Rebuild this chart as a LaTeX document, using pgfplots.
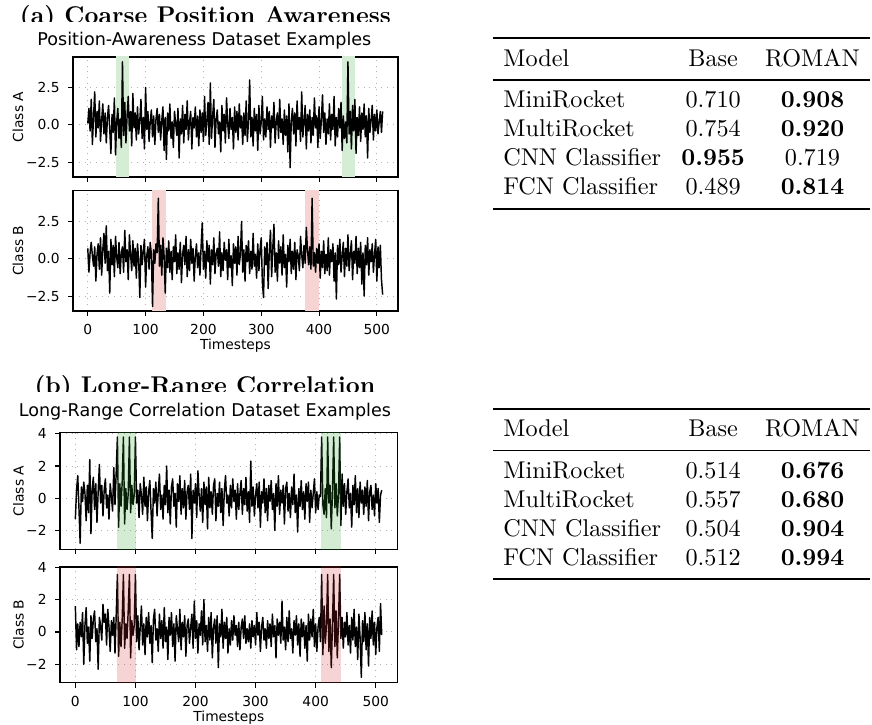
\documentclass[border=0pt]{standalone}
\usepackage{pgfplots}
\pgfplotsset{compat=1.18}
\usepackage{pgfplotstable}
\usepackage{booktabs}
\usepackage{fontspec}
\newfontfamily\dejavu{DejaVu Sans}
\definecolor{shG}{RGB}{213,236,213}
\definecolor{shR}{RGB}{247,212,212}
\definecolor{tabgreen}{RGB}{44,160,44}
\definecolor{tabred}{RGB}{214,39,40}
\newlength\bw
\settowidth\bw{\fontsize{10}{12}\selectfont\textbf{0.000}}

\pgfplotstableread[row sep=\\]{y\\
0.1\\ 1.1\\ -0.4\\ 1.7\\ -1.3\\ 0.6\\ 2.2\\ -0.8\\ 0.9\\ -0.2\\ 1.6\\ -1.1\\ 0.3\\ 1.4\\ -0.6\\ 0.8\\
-1.2\\ 0.5\\ 1.3\\ -0.3\\ -1.9\\ 0.7\\ -0.5\\ 1.8\\ -2.0\\ 0.2\\ 1.1\\ -0.9\\ 0.4\\ -1.5\\ 4.2\\ -0.7\\
1.5\\ -1.2\\ 0.6\\ 1.9\\ -0.4\\ 0.9\\ -1.4\\ 2.1\\ -0.2\\ 0.8\\ -1.0\\ 1.2\\ -0.6\\ 0.3\\ 1.7\\ -0.9\\
0.5\\ -1.6\\ 2.5\\ -0.3\\ 0.9\\ -1.1\\ 0.2\\ 1.0\\ -0.8\\ 0.6\\ -1.3\\ 0.4\\ 1.1\\ -0.5\\ 0.7\\ -1.0\\
0.3\\ 1.2\\ -1.7\\ 0.5\\ -2.3\\ 0.8\\ -0.4\\ 1.4\\ -0.9\\ 0.2\\ -1.5\\ 0.9\\ 0.1\\ -0.7\\ 1.1\\ -2.2\\
0.4\\ -0.6\\ 1.3\\ -1.2\\ 0.7\\ -0.3\\ 1.6\\ -1.0\\ 0.2\\ 0.9\\ -1.6\\ 0.5\\ -0.2\\ 1.2\\ -0.8\\ 0.6\\
-1.4\\ 1.0\\ -0.5\\ 0.8\\ -1.1\\ 1.9\\ -0.7\\ 0.3\\ 1.5\\ -1.3\\ 2.8\\ -0.9\\ 0.6\\ 1.7\\ -1.5\\ 0.4\\
1.0\\ -0.6\\ 0.2\\ -1.8\\ 1.3\\ -0.4\\ 0.7\\ -1.2\\ 1.8\\ 0.1\\ -0.9\\ 1.1\\ -0.3\\ 0.5\\ -1.6\\ 1.2\\
-0.5\\ 0.9\\ -1.0\\ 1.4\\ -0.2\\ 0.6\\ -1.3\\ 0.8\\ -0.7\\ 1.6\\ -1.1\\ 0.3\\ 3.0\\ -0.8\\ 0.5\\ -1.4\\
1.1\\ -0.4\\ 0.7\\ -1.7\\ 1.3\\ -0.6\\ 0.2\\ 1.9\\ -1.0\\ 0.4\\ -0.8\\ 1.2\\ -0.3\\ 0.9\\ -1.5\\ 0.6\\
-0.2\\ 1.5\\ -1.2\\ 0.3\\ 0.8\\ -0.9\\ 1.7\\ -0.5\\ 0.4\\ -1.3\\ 1.0\\ -0.7\\ 0.6\\ -1.8\\ 1.4\\ -2.85\\
0.3\\ 1.1\\ -0.6\\ 0.8\\ -1.4\\ 1.6\\ -0.3\\ 0.5\\ -1.1\\ 2.2\\ -0.8\\ 0.2\\ 1.3\\ -1.6\\ 0.7\\ -0.4\\
1.0\\ -1.2\\ 0.5\\ -0.7\\ 1.8\\ -0.2\\ 0.6\\ -1.5\\ 1.2\\ -0.9\\ 0.3\\ 2.0\\ -0.5\\ 0.8\\ -1.3\\ 0.4\\
-0.6\\ 1.4\\ -1.0\\ 0.7\\ -0.3\\ 1.9\\ -1.4\\ 0.5\\ -0.8\\ 1.1\\ -0.2\\ 1.5\\ -1.7\\ 0.6\\ -0.9\\ 0.2\\
-1.2\\ 4.2\\ -0.6\\ 0.9\\ -1.6\\ 1.3\\ -0.4\\ 1.7\\ -1.9\\ 0.5\\ -0.7\\ 1.2\\ -1.1\\ 0.8\\ -0.3\\ 1.4\\
-0.8\\ 0.6\\ -2.2\\ 1.1\\ -0.5\\ 0.3\\ 1.3\\ -1.0\\ 0.7\\ -0.4\\ 1.0\\ -0.6\\ 0.2\\ 0.9\\ -0.5\\ 0.9\\
}\aA

\pgfplotstableread[row sep=\\]{y\\
0.7\\ -0.9\\ 0.4\\ 1.1\\ 0.2\\ -0.5\\ 0.8\\ -1.5\\ 0.3\\ 1.0\\ -0.7\\ 1.4\\ -1.1\\ 0.6\\ 1.7\\ -0.3\\
2.2\\ -0.8\\ 0.5\\ -2.3\\ 1.3\\ -0.4\\ 0.9\\ -1.2\\ 1.5\\ 0.1\\ -0.6\\ 1.1\\ -1.0\\ 0.4\\ 0.8\\ -0.9\\
1.9\\ -0.2\\ 0.6\\ -1.4\\ 1.6\\ 0.3\\ -0.8\\ 1.2\\ -0.5\\ 0.7\\ -1.3\\ 1.0\\ -0.1\\ -2.6\\ 0.9\\ -0.4\\
0.5\\ 1.3\\ -1.9\\ 0.2\\ 0.8\\ -0.7\\ 1.1\\ 0.3\\ -3.2\\ 0.6\\ -0.3\\ 1.0\\ 0.4\\ 4.05\\ -0.5\\ 0.9\\
-1.1\\ 1.4\\ 0.2\\ -2.3\\ 0.7\\ -0.6\\ 1.2\\ -0.9\\ 0.5\\ -1.4\\ 0.8\\ -0.2\\ 1.6\\ -1.0\\ 0.4\\ -0.7\\
1.1\\ -1.6\\ 0.3\\ 0.9\\ -0.4\\ 1.5\\ -1.2\\ 0.6\\ -0.8\\ 1.3\\ -0.3\\ 0.7\\ -1.5\\ 0.2\\ 1.0\\ -0.6\\
0.4\\ -1.1\\ 0.8\\ 2.4\\ -0.7\\ 0.5\\ -1.3\\ 1.2\\ -0.2\\ 0.9\\ -1.7\\ 0.6\\ -0.4\\ 1.4\\ -1.0\\ 0.3\\
0.7\\ -0.5\\ 1.8\\ -1.2\\ 0.4\\ -0.8\\ 1.1\\ -0.1\\ 0.6\\ -1.4\\ 1.3\\ -0.6\\ 0.2\\ -1.8\\ 1.0\\ -0.3\\
0.8\\ -1.1\\ 1.5\\ -0.4\\ 0.3\\ 2.5\\ -0.9\\ 0.6\\ -1.5\\ 0.9\\ -0.2\\ 1.2\\ -1.0\\ 0.5\\ -0.7\\ 1.7\\
-0.5\\ 0.3\\ -1.3\\ 1.0\\ -0.8\\ 0.6\\ 1.4\\ -1.6\\ -2.6\\ 0.8\\ -0.4\\ 1.1\\ -2.0\\ 0.5\\ 1.9\\ -1.2\\
0.7\\ 2.3\\ -0.9\\ 0.4\\ -1.5\\ 1.2\\ -0.3\\ 0.8\\ -1.1\\ 1.6\\ -0.6\\ 0.3\\ -1.9\\ 0.9\\ -0.2\\ 1.3\\
-1.0\\ 0.5\\ -0.7\\ 1.1\\ -1.4\\ 0.6\\ 0.2\\ -0.8\\ 1.5\\ 0.3\\ -0.6\\ 0.9\\ -0.3\\ 2.1\\ 0.6\\ -0.4\\
0.8\\ -0.7\\ 4.05\\ -0.5\\ 0.4\\ -0.9\\ 0.7\\ -0.3\\ 1.0\\ -1.3\\ 0.5\\ -0.6\\ 1.2\\ -1.0\\ 0.3\\ -0.8\\
1.4\\ -1.1\\ 0.6\\ -0.2\\ 1.0\\ -1.5\\ 0.4\\ -2.7\\ 0.9\\ -0.4\\ 1.3\\ -0.9\\ 0.2\\ 1.1\\ -1.2\\ 0.7\\
-0.5\\ 1.6\\ -0.8\\ 0.3\\ 1.2\\ -1.4\\ 0.5\\ -0.3\\ 1.5\\ -1.0\\ 0.7\\ -0.6\\ 1.1\\ -1.7\\ 0.4\\ -2.5\\
0.9\\ -0.4\\ 1.4\\ -1.1\\ 0.6\\ -0.2\\ 1.0\\ -0.9\\ 0.3\\ 1.3\\ -1.5\\ 0.8\\ -0.6\\ 0.9\\ -1.4\\ -2.4\\
}\aB

\pgfplotstableread[row sep=\\]{y\\
-1.3\\ 0.5\\ 1.4\\ -0.6\\ -2.8\\ 0.7\\ -0.2\\ 1.0\\ 0.3\\ -1.4\\ 0.8\\ -0.9\\ 2.4\\ -2.2\\ 0.6\\ 1.3\\
-0.7\\ 0.9\\ -1.5\\ 0.4\\ 2.1\\ -0.3\\ 0.8\\ -1.1\\ 0.5\\ 1.2\\ -0.6\\ 0.2\\ -1.3\\ 0.9\\ 0.1\\ -0.8\\
1.9\\ -0.4\\ 1.6\\ 3.8\\ -1.8\\ 0.9\\ -0.5\\ 1.0\\ 3.8\\ -1.6\\ 0.6\\ -0.7\\ 0.3\\ 3.8\\ -0.9\\ 0.8\\
-0.4\\ 0.2\\ 3.8\\ -0.3\\ 0.5\\ -1.2\\ 0.9\\ 0.2\\ -1.0\\ 1.3\\ -0.5\\ 0.7\\ -1.4\\ 0.4\\ 1.1\\ -0.8\\
-2.5\\ 0.6\\ -0.3\\ 1.0\\ -1.1\\ 0.4\\ 1.5\\ -0.7\\ 0.2\\ -1.3\\ 0.8\\ -0.4\\ 2.0\\ -0.9\\ 0.5\\ -1.6\\
0.7\\ 1.2\\ -0.5\\ 0.3\\ -1.8\\ 0.9\\ -0.2\\ 1.4\\ -1.0\\ 0.6\\ -0.6\\ 1.1\\ -1.3\\ 0.4\\ 0.8\\ -0.7\\
1.5\\ -2.5\\ 0.5\\ -0.3\\ 0.9\\ -1.2\\ 1.7\\ 0.2\\ -0.8\\ 0.6\\ -1.5\\ 1.0\\ -0.4\\ 0.7\\ -1.9\\ 1.3\\
-0.6\\ 0.4\\ -1.0\\ 0.8\\ 1.2\\ -1.4\\ 0.3\\ -0.5\\ 1.0\\ -0.9\\ 0.6\\ -1.7\\ 0.5\\ 1.4\\ -0.3\\ 0.2\\
-1.1\\ 0.8\\ -0.6\\ 1.2\\ -0.2\\ 0.5\\ -1.3\\ 0.9\\ -0.7\\ 0.3\\ 1.1\\ -1.0\\ 0.6\\ -0.4\\ 1.3\\ -0.8\\
0.4\\ -1.5\\ 2.3\\ -0.5\\ 0.7\\ -1.1\\ 0.2\\ 0.9\\ -0.6\\ 1.0\\ -1.8\\ 0.4\\ -0.3\\ 1.2\\ -0.9\\ 0.6\\
-1.4\\ 0.8\\ -0.2\\ 1.1\\ -0.7\\ 0.3\\ -2.0\\ 0.9\\ -0.5\\ 1.4\\ -1.0\\ 0.5\\ -0.3\\ 0.8\\ -1.6\\ 0.6\\
1.0\\ -0.8\\ 0.3\\ -1.2\\ 0.7\\ -0.4\\ 1.5\\ -0.9\\ 0.2\\ -2.1\\ 0.6\\ -0.5\\ 1.1\\ -0.7\\ 0.4\\ -1.3\\
0.9\\ -0.2\\ 1.0\\ -1.5\\ 0.5\\ -0.6\\ 0.3\\ 1.2\\ -0.9\\ 0.4\\ -0.7\\ 0.2\\ 0.1\\ 3.8\\ -0.4\\ -1.0\\
0.6\\ -1.2\\ 3.8\\ -0.3\\ 0.8\\ -1.9\\ 0.4\\ 3.8\\ -0.6\\ 0.9\\ -1.1\\ 0.2\\ 3.8\\ -1.7\\ 1.5\\ -0.5\\
0.9\\ -1.0\\ 0.4\\ 1.2\\ -0.6\\ 0.3\\ -1.8\\ 0.8\\ -0.4\\ 1.4\\ -0.9\\ 0.6\\ -1.2\\ 1.0\\ -0.3\\ 0.5\\
-1.0\\ 0.7\\ -0.5\\ 1.1\\ -1.4\\ 0.4\\ 0.8\\ -0.7\\ 0.2\\ -1.1\\ 0.9\\ -0.3\\ 0.6\\ -1.5\\ 0.2\\ 0.5\\
}\bA

\pgfplotstableread[row sep=\\]{y\\
1.6\\ -1.1\\ 0.5\\ -0.9\\ 0.6\\ -0.3\\ 1.2\\ -2.0\\ 0.4\\ 1.5\\ -0.7\\ 0.3\\ -1.8\\ 1.0\\ -0.4\\ 0.8\\
1.3\\ -0.6\\ 0.2\\ -2.3\\ 0.9\\ 0.4\\ -0.5\\ 1.7\\ 0.6\\ 1.1\\ -0.8\\ 1.4\\ 0.3\\ -1.2\\ 0.7\\ -0.2\\
0.9\\ -1.3\\ 1.0\\ 3.55\\ -1.5\\ 0.6\\ -0.9\\ 0.8\\ 3.55\\ -1.0\\ 0.5\\ -0.4\\ 1.3\\ 3.55\\ -1.6\\ 0.7\\
-0.2\\ 0.4\\ 3.55\\ -0.6\\ 1.0\\ -1.1\\ 0.3\\ 1.6\\ -0.8\\ 0.5\\ -1.4\\ 0.9\\ -0.3\\ 1.2\\ -0.7\\ 0.4\\
-1.9\\ 0.8\\ 1.4\\ -0.5\\ 0.2\\ -1.2\\ 1.1\\ -0.4\\ 0.7\\ -1.0\\ 1.5\\ -0.6\\ 0.3\\ -1.7\\ 0.9\\ -0.2\\
1.2\\ -0.9\\ 0.5\\ -1.8\\ 1.0\\ 0.2\\ -0.6\\ 1.4\\ -1.1\\ 0.6\\ -0.3\\ 1.0\\ -1.5\\ 0.4\\ 0.8\\ -0.7\\
0.3\\ 1.1\\ -1.0\\ 1.9\\ -0.4\\ 0.7\\ -1.3\\ 0.5\\ -0.2\\ 1.3\\ -0.8\\ 2.0\\ -0.6\\ 0.4\\ -1.2\\ 0.9\\
-0.5\\ 1.2\\ -1.6\\ 0.3\\ 0.8\\ -0.7\\ 1.0\\ -2.2\\ 0.5\\ -0.3\\ 1.4\\ -1.0\\ 0.6\\ -0.4\\ 0.9\\ -1.3\\
0.2\\ -0.8\\ 0.7\\ -0.5\\ 1.0\\ -0.2\\ 0.4\\ -0.9\\ 0.6\\ -1.1\\ 0.3\\ 0.8\\ -0.4\\ 1.0\\ -0.7\\ 0.2\\
-0.6\\ 0.5\\ -1.0\\ 0.7\\ -0.3\\ 0.4\\ -0.8\\ 1.2\\ -0.2\\ 0.6\\ -1.2\\ 0.3\\ 0.9\\ -0.5\\ 0.2\\ -1.0\\
0.7\\ -0.4\\ 0.5\\ -0.9\\ 1.1\\ -0.3\\ 0.4\\ -1.6\\ 0.8\\ -0.2\\ 0.6\\ -0.7\\ 1.9\\ -0.5\\ 0.3\\ -1.1\\
0.9\\ -0.6\\ 1.3\\ -0.4\\ 0.2\\ -1.3\\ 0.7\\ -0.2\\ 1.0\\ -0.8\\ 0.5\\ -1.5\\ 0.8\\ -0.3\\ 0.6\\ -1.0\\
0.4\\ -1.8\\ 1.1\\ -0.5\\ 0.8\\ -0.3\\ 1.4\\ -0.9\\ 0.5\\ -1.2\\ 0.3\\ 0.9\\ -0.6\\ 3.55\\ -1.4\\ 1.6\\
-0.7\\ 0.4\\ 3.55\\ -1.2\\ 0.8\\ -2.2\\ 0.5\\ 3.55\\ -0.9\\ 1.3\\ -1.6\\ 0.7\\ 3.55\\ -0.4\\ 0.9\\ -1.0\\
0.6\\ -0.3\\ 1.2\\ -0.8\\ 0.4\\ -1.3\\ 0.9\\ -0.5\\ 1.4\\ -0.9\\ 0.3\\ -1.7\\ 1.1\\ -0.4\\ -2.8\\ 0.7\\
-0.6\\ 1.2\\ -1.1\\ 0.5\\ -2.1\\ 0.9\\ -0.4\\ 1.3\\ -0.8\\ 0.6\\ -1.4\\ 0.3\\ 0.9\\ -1.2\\ 1.75\\ -0.2\\
}\bB

\pgfplotsset{
  ts/.style={
    scale only axis, anchor=south west,
    xmin=-25.55, xmax=536.55,
    xtick={0,100,200,300,400,500},
    tick align=outside, xtick pos=bottom, ytick pos=left,
    major tick length=2pt,
    every tick/.append style={black, line width=0.45pt},
    axis line style={line width=0.45pt},
    grid=major,
    major grid style={dotted, line width=0.4pt, black!30},
    ticklabel style={font=\dejavu\fontsize{5.7}{6.5}\selectfont},
    label style={font=\dejavu\fontsize{5.7}{6.5}\selectfont},
  },
  tsa/.style={ytick={-2.5,0,2.5}, yticklabels={−2.5,0.0,2.5}},
  tsb/.style={ytick={-2,0,2,4}, yticklabels={−2,0,2,4}},
  dat/.style={black, line width=0.6pt, line join=round},
}

\begin{document}
\begin{tikzpicture}
\useasboundingbox (0,0) rectangle (360pt,299.31pt);

% section titles (partly covered by the figure image)
\node[anchor=base, inner sep=0pt, font=\fontsize{10}{12}\selectfont\bfseries] at (84.8pt,289.7pt) {(a) Coarse Position Awareness};
\node[anchor=base, inner sep=0pt, font=\fontsize{10}{12}\selectfont\bfseries] at (84.6pt,136.94pt) {(b) Long-Range Correlation};
\fill[white] (0,150pt) rectangle (194pt,290.35pt);
\fill[white] (0,0) rectangle (194pt,137.6pt);

\node[anchor=base, inner sep=0pt, font=\dejavu\fontsize{7.25}{8.5}\selectfont] at (84.4pt,280.7pt) {Position-Awareness Dataset Examples};
\node[anchor=base, inner sep=0pt, font=\dejavu\fontsize{7.25}{8.5}\selectfont] at (84.6pt,127.16pt) {Long-Range Correlation Dataset Examples};

% (a) Class A
\begin{axis}[ts, tsa, at={(30.14pt,226.24pt)}, width=134.17pt, height=49.54pt,
  ymin=-3.47, ymax=4.53, xticklabels={},
  ylabel={Class A}, ylabel style={at={(axis description cs:-0.169,0.5)}, anchor=center}]
\addplot[draw=none, fill=shG] coordinates {(49,-10) (49,10) (72,10) (72,-10)} -- cycle;
\addplot[draw=none, fill=shG] coordinates {(439,-10) (439,10) (462,10) (462,-10)} -- cycle;
\addplot[dat] table[x expr=2*\coordindex, y=y] {\aA};
\end{axis}

% (a) Class B
\begin{axis}[ts, tsa, at={(30.14pt,170.92pt)}, width=134.17pt, height=49.66pt,
  ymin=-3.5, ymax=4.56, xticklabels={0,100,200,300,400,500},
  xlabel={Timesteps}, xlabel style={at={(axis description cs:0.5,-0.324)}, anchor=base},
  ylabel={Class B}, ylabel style={at={(axis description cs:-0.169,0.5)}, anchor=center}]
\addplot[draw=none, fill=shR] coordinates {(111,-10) (111,10) (135,10) (135,-10)} -- cycle;
\addplot[draw=none, fill=shR] coordinates {(376,-10) (376,10) (400,10) (400,-10)} -- cycle;
\addplot[dat] table[x expr=2*\coordindex, y=y] {\aB};
\end{axis}

% (b) Class A
\begin{axis}[ts, tsb, at={(24.77pt,72.54pt)}, width=139.42pt, height=48.14pt,
  ymin=-3.17, ymax=4.07, xticklabels={},
  ylabel={Class A}, ylabel style={at={(axis description cs:-0.123,0.5)}, anchor=center}]
\addplot[dat] table[x expr=2*\coordindex, y=y] {\bA};
\addplot[draw=none, fill=tabgreen, fill opacity=0.2] coordinates {(69,-10) (69,10) (101,10) (101,-10)} -- cycle;
\addplot[draw=none, fill=tabgreen, fill opacity=0.2] coordinates {(409,-10) (409,10) (442,10) (442,-10)} -- cycle;
\end{axis}

% (b) Class B
\begin{axis}[ts, tsb, at={(24.77pt,17.46pt)}, width=139.42pt, height=47.77pt,
  ymin=-3.13, ymax=4.01, xticklabels={0,100,200,300,400,500},
  xlabel={Timesteps}, xlabel style={at={(axis description cs:0.5,-0.337)}, anchor=base},
  ylabel={Class B}, ylabel style={at={(axis description cs:-0.123,0.5)}, anchor=center}]
\addplot[dat] table[x expr=2*\coordindex, y=y] {\bB};
\addplot[draw=none, fill=tabred, fill opacity=0.2] coordinates {(69,-10) (69,10) (101,10) (101,-10)} -- cycle;
\addplot[draw=none, fill=tabred, fill opacity=0.2] coordinates {(409,-10) (409,10) (442,10) (442,-10)} -- cycle;
\end{axis}

% tables
\node[anchor=north west, inner sep=0pt, font=\fontsize{10}{12}\selectfont] at (203.4pt,284.04pt) {%
\setlength{\tabcolsep}{4.2pt}%
\begin{tabular}{lcc}
\toprule
Model & \makebox[\bw]{Base} & ROMAN\\
\midrule
MiniRocket & 0.710 & \textbf{0.908}\\
MultiRocket & 0.754 & \textbf{0.920}\\
CNN Classifier & \textbf{0.955} & 0.719\\
FCN Classifier & 0.489 & \textbf{0.814}\\
\bottomrule
\end{tabular}};

\node[anchor=north west, inner sep=0pt, font=\fontsize{10}{12}\selectfont] at (203.4pt,131.16pt) {%
\setlength{\tabcolsep}{4.2pt}%
\begin{tabular}{lcc}
\toprule
Model & \makebox[\bw]{Base} & ROMAN\\
\midrule
MiniRocket & 0.514 & \textbf{0.676}\\
MultiRocket & 0.557 & \textbf{0.680}\\
CNN Classifier & 0.504 & \textbf{0.904}\\
FCN Classifier & 0.512 & \textbf{0.994}\\
\bottomrule
\end{tabular}};
\end{tikzpicture}
\end{document}
